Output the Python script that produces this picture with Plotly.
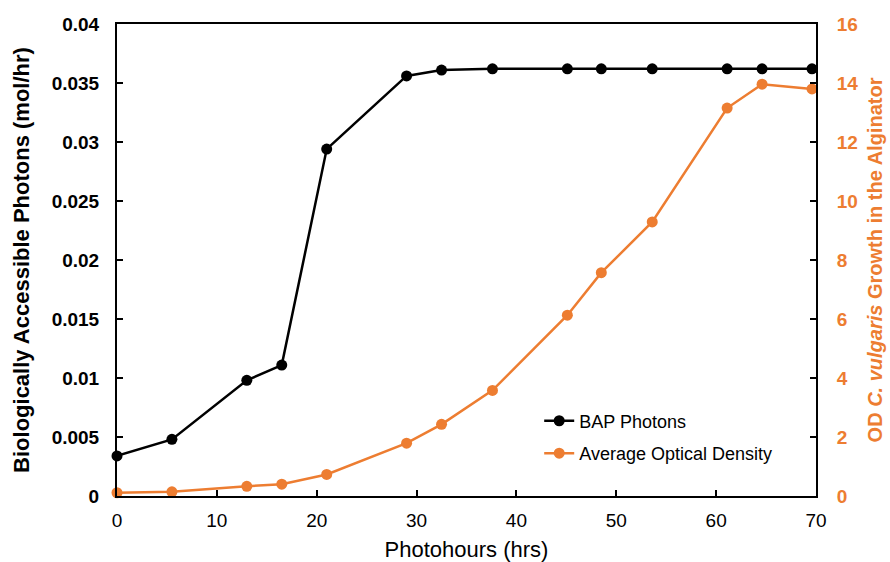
import plotly.graph_objects as go

# Sampling times (photohours)
photohours = [0, 5.5, 13.0, 16.5, 21.0, 29.0, 32.5, 37.6, 45.1, 48.5, 53.6, 61.1, 64.6, 69.6]

# Biologically accessible photons (mol/hr)
bap_photons = [0.0034, 0.0048, 0.0098, 0.0111, 0.0294, 0.0356, 0.0361, 0.0362,
               0.0362, 0.0362, 0.0362, 0.0362, 0.0362, 0.0362]

# Average optical density of C. vulgaris
avg_od = [0.11, 0.14, 0.33, 0.40, 0.73, 1.79, 2.43, 3.58,
          6.13, 7.57, 9.29, 13.15, 13.96, 13.80]

x_ticks = [0, 10, 20, 30, 40, 50, 60, 70]
y_ticks = [0, 0.005, 0.01, 0.015, 0.02, 0.025, 0.03, 0.035, 0.04]
y_tick_text = ["0", "0.005", "0.01", "0.015", "0.02", "0.025", "0.03", "0.035", "0.04"]
y2_ticks = [0, 2, 4, 6, 8, 10, 12, 14, 16]

BLACK = "#000000"
ORANGE = "#ED7D31"
FONT = "Arial, 'Liberation Sans', sans-serif"

fig = go.Figure()

fig.add_trace(go.Scatter(
    x=photohours, y=bap_photons, name="BAP Photons",
    mode="lines+markers",
    line=dict(color=BLACK, width=2.5),
    marker=dict(color=BLACK, size=11),
    legendgroup="a", cliponaxis=False,
))

fig.add_trace(go.Scatter(
    x=photohours, y=avg_od, name="Average Optical Density",
    mode="lines+markers", yaxis="y2",
    line=dict(color=ORANGE, width=2.5),
    marker=dict(color=ORANGE, size=11),
    legendgroup="b", cliponaxis=False,
))

fig.update_layout(
    width=890, height=562,
    margin=dict(l=117, r=74, t=24, b=66, autoexpand=False),
    paper_bgcolor="white", plot_bgcolor="white",
    font=dict(family=FONT, color=BLACK),
    showlegend=True,
    legend=dict(
        x=0.604, y=0.198, xanchor="left", yanchor="top",
        font=dict(size=18, color=BLACK, family=FONT),
        bgcolor="rgba(0,0,0,0)",
        traceorder="grouped", tracegroupgap=6,
        itemwidth=30,
    ),
    xaxis=dict(
        range=[0, 70], tickvals=x_ticks, automargin=False,
        showgrid=False, zeroline=False,
        showline=True, linecolor=BLACK, linewidth=2, mirror=True,
        ticks="inside", ticklen=6, tickwidth=1.5, tickcolor=BLACK,
        ticklabelstandoff=6,
        tickfont=dict(size=19, color=BLACK),
        title=dict(text="Photohours (hrs)", font=dict(size=22, color=BLACK), standoff=14),
    ),
    yaxis=dict(
        range=[0, 0.04], tickvals=y_ticks, ticktext=y_tick_text, automargin=False,
        showgrid=False, zeroline=False,
        showline=True, linecolor=BLACK, linewidth=2,
        ticks="inside", ticklen=6, tickwidth=1.5, tickcolor=BLACK,
        ticklabelstandoff=12,
        tickfont=dict(size=19, color=BLACK, weight="bold"),
        title=dict(text="Biologically Accessible Photons (mol/hr)",
                   font=dict(size=22, color=BLACK, weight="bold"), standoff=16),
    ),
    # Right axis: labels and title (spacer ticks are transparent)
    yaxis2=dict(
        range=[0, 16], tickvals=y2_ticks, automargin=False,
        overlaying="y", side="right", anchor="x",
        showgrid=False, zeroline=False,
        showline=True, linecolor=BLACK, linewidth=2,
        ticks="outside", ticklen=15, tickwidth=1, tickcolor="rgba(0,0,0,0)",
        tickfont=dict(size=19, color=ORANGE, weight="bold"),
        title=dict(text="OD <i>C. vulgaris</i> Growth in the Alginator",
                   font=dict(size=20, color=ORANGE, weight="bold"), standoff=11),
    ),
    # Right axis: inward tick marks only
    yaxis3=dict(
        range=[0, 16], tickvals=y2_ticks, automargin=False,
        overlaying="y", side="right", anchor="x",
        showgrid=False, zeroline=False, showline=False,
        ticks="inside", ticklen=6, tickwidth=1.5, tickcolor=BLACK,
        showticklabels=False,
    ),
)

# Invisible trace so the tick-mark axis is rendered
fig.add_trace(go.Scatter(
    x=[photohours[0]], y=[avg_od[0]], yaxis="y3",
    mode="markers", marker=dict(opacity=0),
    showlegend=False, hoverinfo="skip",
))

fig.write_html("out.html")
